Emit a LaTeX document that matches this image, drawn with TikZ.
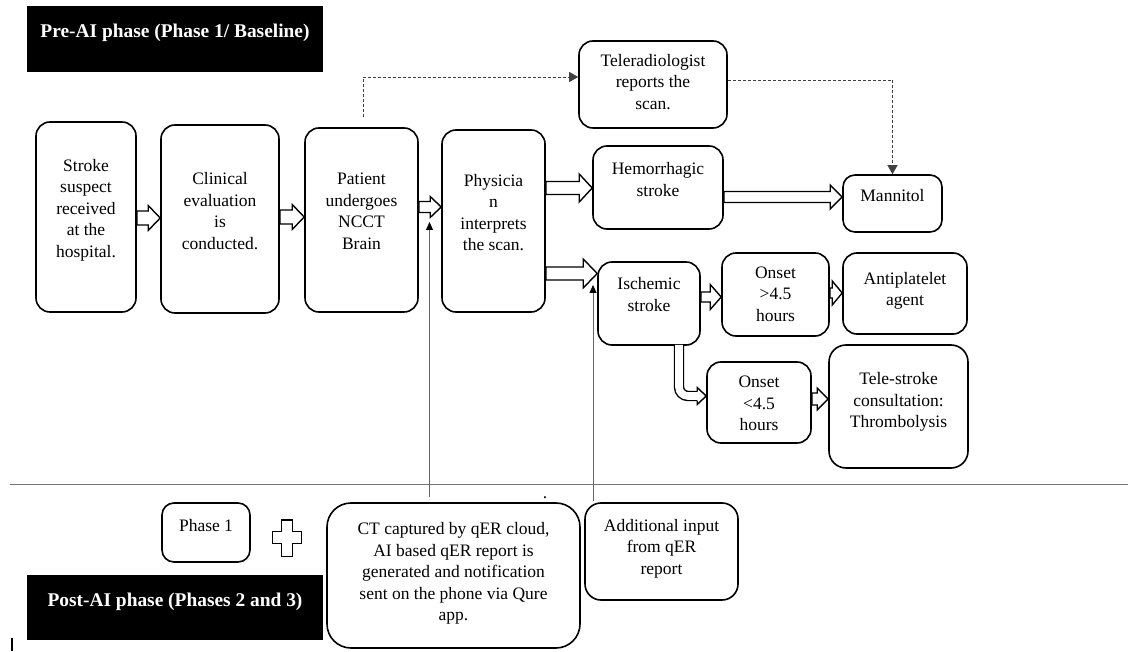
\documentclass[tikz,border=0pt]{standalone}
\usepackage{fontspec}
\setmainfont{Liberation Serif}
\usetikzlibrary{calc,arrows.meta}
\newcommand\bt[2]{\raisebox{#1pt}[\height][\depth]{\begin{tabular}{@{}c@{}}#2\end{tabular}}}
% horizontal hollow block arrow: from, to, Y, shaft half, head half, head length
\newcommand\harr[6]{%
  \draw[barr] let \p1=(#1), \p2=(#2) in
    (\x1,#3+#4) -- (\x2-#6,#3+#4) -- (\x2-#6,#3+#5) -- (\x2,#3) --
    (\x2-#6,#3-#5) -- (\x2-#6,#3-#4) -- (\x1,#3-#4) -- cycle;}
\tikzset{
  bx/.style 2 args={draw, line width=1.6pt, rounded corners=14pt,
    minimum width=#1, minimum height=#2, inner sep=0pt,
    font=\fontsize{17.5}{21.5}\selectfont},
  blk/.style={fill=black, text=white, minimum width=296pt, inner sep=0pt,
    font=\fontsize{19.4}{23}\selectfont\bfseries},
  barr/.style={draw, fill=white, line width=1.4pt, line join=miter},
  dsh/.style={draw=black!75, line width=0.8pt, dash pattern=on 3pt off 2pt,
    -{Triangle[length=9pt,width=10pt]}},
  upa/.style={draw=black!60, line width=0.8pt, -{Triangle[length=8pt,width=7pt,color=black]}},
  sep/.style={draw=black!55, line width=1pt}
}
\begin{document}
\begin{tikzpicture}[x=1pt,y=1pt]
\useasboundingbox (0,0) rectangle (1131,651);

% titles
\node[blk, minimum height=66pt] (pre) at (175,612) {\raisebox{6pt}[\height][\depth]{Pre-AI phase (Phase 1/ Baseline)}};
\node[blk, minimum height=65pt] (post) at (175,43.5) {\raisebox{5.5pt}[\height][\depth]{Post-AI phase (Phases 2 and 3)}};

% main flow
\node[bx={100pt}{190pt}] (stroke) at (86,434) {\bt{7}{Stroke\\suspect\\received\\at the\\hospital.}};
\node[bx={118pt}{188pt}] (clin) at (220,432) {\bt{6.5}{Clinical\\evaluation\\is\\conducted.}};
\node[bx={113pt}{184pt}] (pat) at (361.5,431) {\bt{7.5}{Patient\\undergoes\\NCCT\\Brain}};
\node[bx={103pt}{182pt}] (phys) at (493.5,430) {\bt{7}{Physicia\\n\\interprets\\the scan.}};
\node[bx={148pt}{87pt}] (tele) at (653,566.5) {\bt{1}{Teleradiologist\\reports the\\scan.}};
\node[bx={130pt}{83pt}] (hem) at (658,463.5) {\bt{6.5}{Hemorrhagic\\stroke}};
\node[bx={99pt}{57pt}, rounded corners=12pt] (man) at (892.5,447.5) {\bt{6.5}{Mannitol}};
\node[bx={102pt}{83pt}] (isch) at (649,347.5) {\bt{7.5}{Ischemic\\stroke}};
\node[bx={107pt}{83pt}] (on1) at (775.5,356.5) {\bt{-1}{Onset\\>4.5\\hours}};
\node[bx={124pt}{81pt}] (anti) at (905,357.5) {\bt{3}{Antiplatelet\\agent}};
\node[bx={104pt}{81pt}] (on2) at (759,248.5) {\bt{-2.5}{Onset\\<4.5\\hours}};
\node[bx={139pt}{123pt}, rounded corners=17pt] (tst) at (898.5,244.5) {\bt{4.5}{Tele-stroke\\consultation:\\Thrombolysis}};

% bottom part
\node[bx={88pt}{59pt}, rounded corners=12pt] (ph1) at (206,118.5) {\bt{5.5}{Phase 1}};
\node[bx={253pt}{145pt}, rounded corners=24pt] (ct) at (453.5,75.5) {\bt{2}{CT captured by qER cloud,\\AI based qER report is\\generated and notification\\sent on the phone via Qure\\app.}};
\node[bx={153pt}{97pt}, rounded corners=16pt] (add) at (661.5,99.5) {\bt{3}{Additional input\\from qER\\report}};

% plus sign
\draw[line width=1.4pt] (281.7,131) -- (292.7,131) -- (292.7,119.3) -- (301.7,119.3) -- (301.7,107.7)
  -- (292.7,107.7) -- (292.7,94.3) -- (281.7,94.3) -- (281.7,107.7) -- (272.7,107.7)
  -- (272.7,119.3) -- (281.7,119.3) -- cycle;

% separator, dot, bar
\draw[sep] (10,167) -- (1128,167);
\node[inner sep=0pt, anchor=base, font=\fontsize{17.5}{21.5}\selectfont] (dot) at (545,152.5) {.};
\draw[line width=1.3pt] (12,13) -- (12,0);

% block arrows
\harr{stroke.east}{clin.west}{433}{7}{12.5}{12}
\harr{clin.east}{pat.west}{434}{7}{12.5}{12}
\harr{pat.east}{phys.west}{444}{5.5}{10.5}{11}
\harr{phys.east}{hem.west}{463}{6.5}{14}{13}
\harr{phys.east}{isch.west}{377.5}{6.5}{14.5}{14}
\harr{hem.east}{man.west}{454}{5.5}{12}{12}
\harr{isch.east}{on1.west}{354}{5}{12.5}{11}
\harr{on1.east}{anti.west}{358}{5}{12}{10}
\harr{on2.east}{tst.west}{252}{6}{11}{11}

% elbow double arrow
\coordinate (eb) at ($(on2.west)+(-9,6.5)$);
\draw[line width=1.4pt, double=white, double distance=7.6pt, rounded corners=9pt]
  ([xshift=30pt,yshift=0.8pt]isch.south) |- (eb);
\draw[barr, line join=miter] let \p1=(eb), \p2=(on2.west) in
  (\x1,\y1+4.5) -- (\x1,\y1+8.5) -- (\x2,\y1) -- (\x1,\y1-8.5) -- (\x1,\y1-4.5);

% dashed connectors
\draw[dsh] ([xshift=1.5pt,yshift=10pt]pat.north) |- ([yshift=7.5pt]tele.west);
\draw[dsh] ([yshift=4.5pt]tele.east) -| (man.north);

% AI input arrows
\coordinate (u1) at (429.5,429);
\coordinate (u2) at (593,366);
\draw[upa] ([xshift=-24pt,yshift=5pt]ct.north) -- (u1);
\draw[upa] ([xshift=-68.5pt,yshift=1pt]add.north) -- (u2);
\end{tikzpicture}
\end{document}
